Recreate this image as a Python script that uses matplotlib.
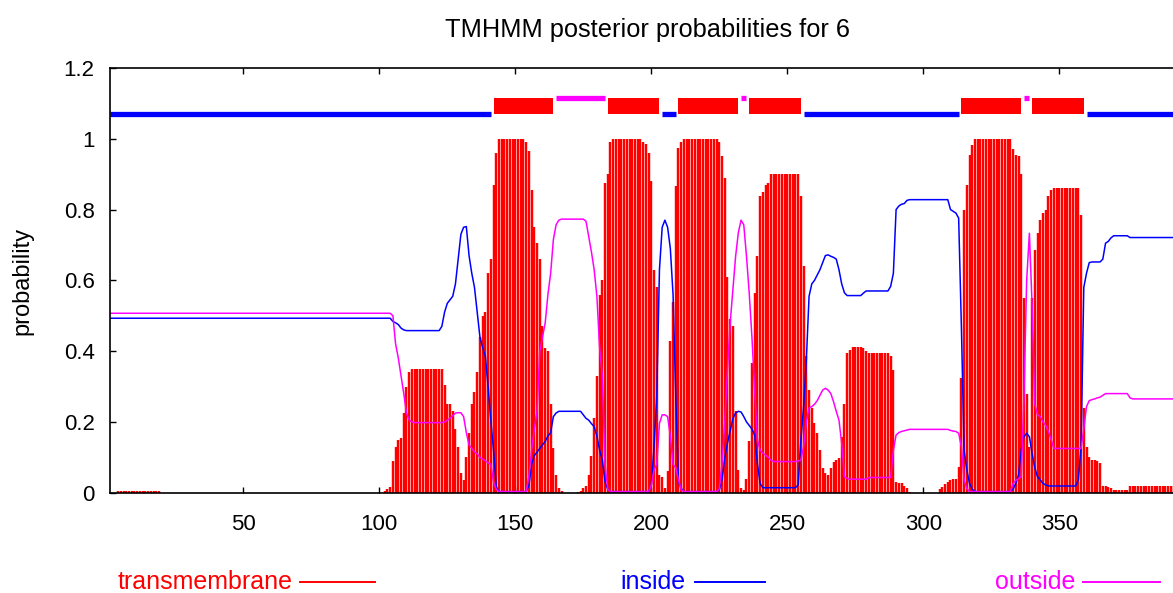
import numpy as np
import matplotlib
matplotlib.use('Agg')
import matplotlib.pyplot as plt
from matplotlib.lines import Line2D
from matplotlib.patches import Rectangle

plt.rcParams['font.family'] = ['Liberation Sans', 'DejaVu Sans']

title = 'TMHMM posterior probabilities for 6'

# posterior probability per residue (residue 1..392)
transmembrane = (
    [0.0] * 3                                                      # 1-3
    + [0.005] * 16                                                 # 4-19
    + [0.0] * 82                                                   # 20-101
    + [0.005, 0.01, 0.015, 0.09, 0.13, 0.15, 0.155, 0.225, 0.30]   # 102-110
    + [0.34]                                                       # 111
    + [0.35] * 12                                                  # 112-123
    + [0.305, 0.25, 0.25, 0.23, 0.18, 0.13, 0.055, 0.035, 0.10, 0.17,
       0.25, 0.285, 0.34, 0.44, 0.50, 0.51, 0.62, 0.66, 0.87, 0.96,
       0.998]                                                      # 124-144
    + [1.0] * 9                                                    # 145-153
    + [0.99, 0.965, 0.856, 0.75, 0.705, 0.66, 0.47, 0.41, 0.40, 0.25,
       0.125, 0.05, 0.012, 0.005]                                  # 154-167
    + [0.0] * 5                                                    # 168-172
    + [0.003, 0.005, 0.012, 0.02, 0.05, 0.105, 0.21, 0.33, 0.56, 0.60,
       0.875, 0.90, 0.99]                                          # 173-185
    + [1.0] * 11                                                   # 186-196
    + [0.99, 0.985, 0.96, 0.88, 0.63, 0.58, 0.05, 0.045, 0.012, 0.06,
       0.43, 0.54, 0.866, 0.975, 0.99]                             # 197-211
    + [1.0] * 13                                                   # 212-224
    + [0.99, 0.95, 0.89, 0.61, 0.49, 0.47, 0.23, 0.064, 0.012, 0.008,
       0.04, 0.145, 0.366, 0.565, 0.668, 0.837, 0.85, 0.87, 0.875]  # 225-243
    + [0.90] * 11                                                  # 244-254
    + [0.837, 0.64, 0.385, 0.29, 0.24, 0.196, 0.168, 0.12, 0.07, 0.055,
       0.05, 0.07, 0.088, 0.092, 0.097, 0.158, 0.25, 0.394, 0.404]  # 255-273
    + [0.413] * 4                                                  # 274-277
    + [0.408, 0.40]                                                # 278-279
    + [0.394] * 8                                                  # 280-287
    + [0.385, 0.347, 0.031, 0.026, 0.026, 0.02, 0.012, 0.003]      # 288-295
    + [0.0] * 10                                                   # 296-305
    + [0.01, 0.015, 0.025, 0.03, 0.036, 0.038, 0.04, 0.074, 0.323, 0.80,
       0.87, 0.955, 0.983, 0.998]                                  # 306-319
    + [1.0] * 12                                                   # 320-331
    + [0.998, 0.97, 0.955, 0.95, 0.90, 0.55, 0.28, 0.13, 0.55, 0.687,
       0.733, 0.77, 0.79, 0.80, 0.837, 0.856]                      # 332-347
    + [0.862] * 10                                                 # 348-357
    + [0.786, 0.24, 0.13, 0.10, 0.092, 0.092, 0.09, 0.083, 0.02, 0.02,
       0.015, 0.012]                                               # 358-369
    + [0.008] * 6                                                  # 370-375
    + [0.019]                                                      # 376
    + [0.02] * 16                                                  # 377-392
)

inside = (
    [0.493] * 104                                                  # 1-104
    + [0.484, 0.48, 0.475, 0.465, 0.46]                            # 105-109
    + [0.458] * 13                                                 # 110-122
    + [0.47, 0.51, 0.535, 0.545, 0.555, 0.59, 0.66, 0.73, 0.75, 0.752,
       0.67, 0.62, 0.58, 0.51, 0.44, 0.41, 0.385, 0.30, 0.205, 0.12,
       0.017]                                                      # 123-143
    + [0.003] * 11                                                 # 144-154
    + [0.02, 0.08, 0.105, 0.115, 0.125, 0.135, 0.145, 0.16, 0.17, 0.215,
       0.225]                                                      # 155-165
    + [0.23] * 9                                                   # 166-174
    + [0.22, 0.21, 0.205, 0.195, 0.187, 0.16, 0.12, 0.092]         # 175-182
    + [0.03, 0.01]                                                 # 183-184
    + [0.003] * 15                                                 # 185-199
    + [0.02, 0.13, 0.27, 0.63, 0.75, 0.77, 0.75, 0.69, 0.56, 0.27,
       0.03, 0.012]                                                # 200-211
    + [0.003] * 13                                                 # 212-224
    + [0.008, 0.036, 0.097, 0.14, 0.175, 0.21, 0.225, 0.23, 0.228, 0.215,
       0.20, 0.19, 0.18, 0.163, 0.083, 0.026]                      # 225-240
    + [0.014] * 13                                                 # 241-253
    + [0.022, 0.15, 0.243, 0.375, 0.555, 0.59, 0.60, 0.615, 0.63, 0.65,
       0.67, 0.672, 0.668, 0.665, 0.66, 0.63, 0.59, 0.565, 0.557]  # 254-272
    + [0.557] * 5                                                  # 273-277
    + [0.564, 0.57]                                                # 278-279
    + [0.57] * 8                                                   # 280-287
    + [0.583, 0.62, 0.80, 0.81, 0.815, 0.817, 0.826]               # 288-294
    + [0.828] * 15                                                 # 295-309
    + [0.80, 0.795, 0.79, 0.776, 0.47, 0.12, 0.064, 0.026, 0.01]   # 310-318
    + [0.003] * 14                                                 # 319-332
    + [0.01, 0.026, 0.05, 0.12, 0.158, 0.168, 0.158, 0.11, 0.07, 0.045,
       0.036, 0.026, 0.022]                                        # 333-345
    + [0.019] * 11                                                 # 346-356
    + [0.036, 0.13, 0.58, 0.62, 0.65, 0.652, 0.652, 0.652, 0.652, 0.66]  # 357-366
    + [0.705, 0.71, 0.72]                                          # 367-369
    + [0.726] * 6                                                  # 370-375
    + [0.721] * 17                                                 # 376-392
)

outside = (
    [0.507] * 104                                                  # 1-104
    + [0.50, 0.42, 0.38, 0.33, 0.28, 0.225, 0.205, 0.20]           # 105-112
    + [0.198] * 11                                                 # 113-123
    + [0.2, 0.205, 0.21, 0.218, 0.225, 0.226, 0.226, 0.215, 0.17, 0.135,
       0.125, 0.115, 0.11, 0.10, 0.095, 0.09, 0.085, 0.08, 0.03, 0.01]  # 124-143
    + [0.003] * 11                                                 # 144-154
    + [0.045, 0.12, 0.18, 0.23, 0.40, 0.44, 0.48, 0.56, 0.62, 0.715,
       0.757, 0.77]                                                # 155-166
    + [0.773] * 9                                                  # 167-175
    + [0.767, 0.724, 0.68, 0.63, 0.555, 0.41, 0.33, 0.08, 0.01]    # 176-184
    + [0.003] * 15                                                 # 185-199
    + [0.02, 0.064, 0.08, 0.196, 0.22, 0.22, 0.215, 0.16, 0.08, 0.07,
       0.036, 0.008]                                               # 200-211
    + [0.003] * 13                                                 # 212-224
    + [0.01, 0.083, 0.196, 0.347, 0.48, 0.573, 0.668, 0.735, 0.77, 0.757,
       0.668, 0.564, 0.44, 0.29, 0.15, 0.12, 0.112, 0.106, 0.10, 0.092]  # 225-244
    + [0.088] * 9                                                  # 245-253
    + [0.09, 0.092, 0.13, 0.2, 0.24, 0.243, 0.25, 0.26, 0.275, 0.29,
       0.295, 0.29, 0.28, 0.257, 0.23, 0.205, 0.14, 0.045, 0.04]   # 254-272
    + [0.038] * 7                                                  # 273-279
    + [0.043] * 9                                                  # 280-288
    + [0.12, 0.163, 0.17, 0.173, 0.175, 0.177]                     # 289-294
    + [0.179] * 15                                                 # 295-309
    + [0.176, 0.174, 0.173, 0.168, 0.13, 0.036, 0.012]             # 310-316
    + [0.003] * 16                                                 # 317-332
    + [0.026, 0.035, 0.04, 0.045, 0.27, 0.6, 0.733, 0.53, 0.25, 0.22,
       0.215, 0.2, 0.19, 0.173, 0.15]                              # 333-347
    + [0.125] * 11                                                 # 348-358
    + [0.18, 0.243, 0.26, 0.263, 0.265, 0.268, 0.27, 0.275, 0.28]  # 359-367
    + [0.28] * 8                                                   # 368-375
    + [0.268]                                                      # 376
    + [0.265] * 16                                                 # 377-392
)

# predicted topology: (first residue, last residue, kind)
topology = [
    (1, 141, 'inside'), (142, 164, 'tm'), (165, 183, 'outside'),
    (184, 203, 'tm'), (204, 209, 'inside'), (210, 232, 'tm'),
    (233, 235, 'outside'), (236, 255, 'tm'), (256, 313, 'inside'),
    (314, 336, 'tm'), (337, 339, 'outside'), (340, 359, 'tm'),
    (360, 392, 'inside'),
]

x_ticks = [50, 100, 150, 200, 250, 300, 350]
y_ticks = [0, 0.2, 0.4, 0.6, 0.8, 1.0, 1.2]
y_tick_labels = ['0', '0.2', '0.4', '0.6', '0.8', '1', '1.2']

assert len(transmembrane) == len(inside) == len(outside) == 392

RED = '#ff0000'
BLUE = '#0000ff'
MAGENTA = '#ff00ff'

residues = np.arange(1, len(transmembrane) + 1)

fig = plt.figure(figsize=(11.73, 5.93), dpi=100)
ax = fig.add_axes([110 / 1173, 1 - 492.7 / 593, 1 - 110 / 1173, (492.7 - 68) / 593])

ax.vlines(residues, 0, transmembrane, color=RED, lw=1.75)
ax.plot(residues, inside, color=BLUE, lw=1.1)
ax.plot(residues, outside, color=MAGENTA, lw=1.1)

# topology strip above the plot
for start, end, kind in topology:
    if kind == 'tm':
        ax.add_patch(Rectangle((start, 1.07), end - start, 0.045,
                               facecolor=RED, edgecolor='none'))
    elif kind == 'inside':
        ax.plot([start, end], [1.07, 1.07], color=BLUE, lw=3.8,
                solid_capstyle='butt')
    else:
        ax.plot([start, end], [1.115, 1.115], color=MAGENTA, lw=3.8,
                solid_capstyle='butt')

ax.set_xlim(1, 391.8)
ax.set_ylim(0, 1.2)
ax.set_xticks(x_ticks)
ax.set_yticks(y_ticks)
ax.set_yticklabels(y_tick_labels)
ax.tick_params(direction='in', length=4, width=1, labelsize=16, top=True,
               right=False)
ax.tick_params(axis='x', pad=15)
ax.tick_params(axis='y', pad=11)
ax.spines['right'].set_visible(False)
for side in ['left', 'bottom', 'top']:
    ax.spines[side].set_linewidth(1.2)

fig.text(647.5 / 1173, 1 - 30 / 593, title, ha='center', va='center',
         fontsize=18.3)
fig.text(22 / 1173, 1 - 281 / 593, 'probability', rotation=90,
         ha='center', va='center', fontsize=17)

# legend along the bottom, gnuplot style
legend_items = [('transmembrane', RED, 293, 300, 375),
                ('inside', BLUE, 686, 695, 765),
                ('outside', MAGENTA, 1075, 1083, 1160)]
for label, color, text_end, line_start, line_end in legend_items:
    fig.text(text_end / 1173, 1 - 582 / 593, label, color=color,
             ha='right', va='center', fontsize=18)
    fig.add_artist(Line2D([line_start / 1173, line_end / 1173],
                          [1 - 582 / 593, 1 - 582 / 593],
                          color=color, lw=1.4, transform=fig.transFigure))

fig.savefig('out.png', dpi=100)
